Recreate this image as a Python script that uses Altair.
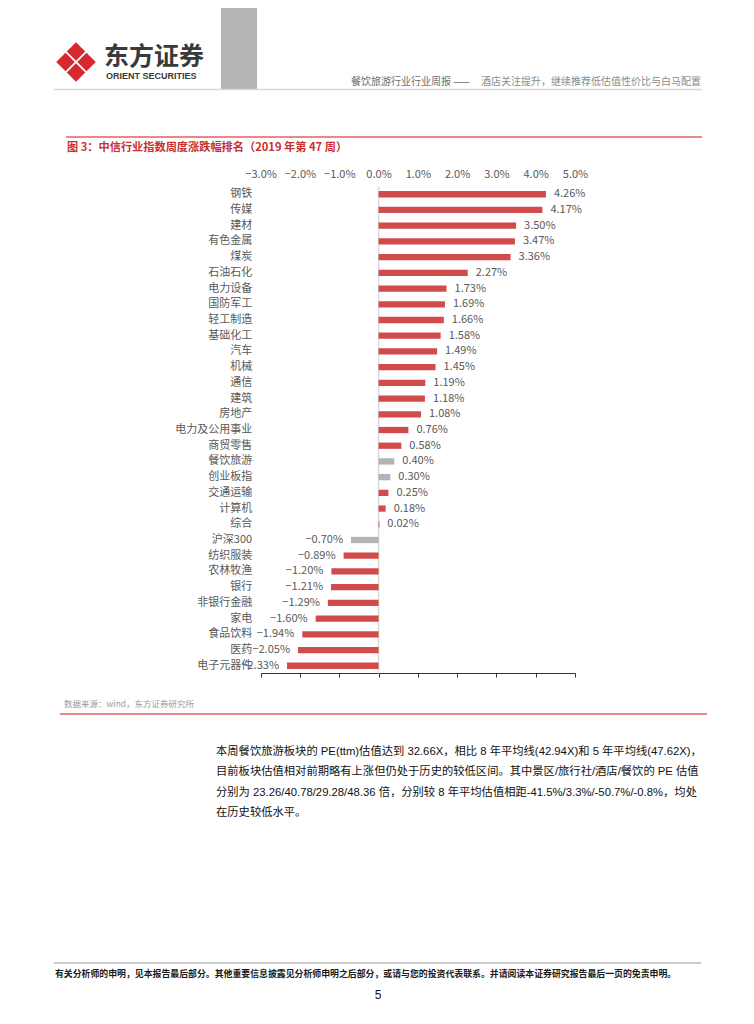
import altair as alt
import pandas as pd

# ---------------- data ----------------
names = ["钢铁", "传媒", "建材", "有色金属", "煤炭", "石油石化", "电力设备", "国防军工",
         "轻工制造", "基础化工", "汽车", "机械", "通信", "建筑", "房地产", "电力及公用事业",
         "商贸零售", "餐饮旅游", "创业板指", "交通运输", "计算机", "综合", "沪深300",
         "纺织服装", "农林牧渔", "银行", "非银行金融", "家电", "食品饮料", "医药", "电子元器件"]
values = [4.26, 4.17, 3.50, 3.47, 3.36, 2.27, 1.73, 1.69,
          1.66, 1.58, 1.49, 1.45, 1.19, 1.18, 1.08, 0.76,
          0.58, 0.40, 0.30, 0.25, 0.18, 0.02, -0.70,
          -0.89, -1.20, -1.21, -1.29, -1.60, -1.94, -2.05, -2.33]
grey_items = ["餐饮旅游", "创业板指", "沪深300"]
tick_values = [-3, -2, -1, 0, 1, 2, 3, 4, 5]

groups = ["grey" if n in grey_items else "red" for n in names]
df = pd.DataFrame({"name": names, "value": values, "group": groups})
one = pd.DataFrame({"k": [0]})

CJK = "Noto Sans CJK SC"
LAT = "Liberation Sans, Noto Sans CJK SC"
LABEL_C = "#595959"

xscale = alt.Scale(domain=[-3, 5], range=[252.7, 567], nice=False, zero=False)
yscale = alt.Scale(domain=names, range=[178.4, 665.6], paddingInner=0.6, paddingOuter=0.3)

base = alt.Chart(df)

bars = base.mark_bar().encode(
    x=alt.X("value:Q", scale=xscale,
            axis=alt.Axis(orient="bottom", offset=-335, values=tick_values, labels=False,
                          ticks=True, tickSize=4, tickColor="#333333", tickWidth=1,
                          domain=True, domainColor="#333333", domainWidth=1.2,
                          grid=False, title=None)),
    y=alt.Y("name:N", scale=yscale,
            axis=alt.Axis(orient="left", offset=-246.7, domain=False, ticks=False,
                          labelPadding=3, labelFontSize=11, labelColor=LABEL_C,
                          labelFont=CJK, title=None, grid=False, labelOverlap=False)),
    color=alt.Color("group:N", scale=alt.Scale(domain=["red", "grey"],
                                               range=["#D24B4B", "#B3B3B3"]), legend=None),
)

zero_line = alt.Chart(one).mark_rule(color="#d9d9d9", strokeWidth=1.5).encode(
    x=alt.XDatum(0, type="quantitative", scale=xscale,
                 axis=alt.Axis(orient="top", offset=-172, values=tick_values,
                               labelExpr="format(datum.value, '.1f') + '%'",
                               ticks=False, tickSize=0, domain=False, grid=False,
                               labelOverlap=False, labelBound=False, labelFlush=False,
                               labelPadding=1, labelFontSize=11, labelColor=LABEL_C,
                               labelFont=CJK, title=None)),
    y=alt.value(178.4),
    y2=alt.value(665.6),
)

pos_labels = base.transform_filter("datum.value >= 0").transform_calculate(
    label="format(datum.value, '.2f') + '%'"
).mark_text(align="left", baseline="middle", dx=8, fontSize=11, color=LABEL_C, font=CJK).encode(
    x=alt.X("value:Q", scale=xscale, axis=None),
    y=alt.Y("name:N", scale=yscale, axis=None),
    text="label:N",
)

neg_labels = base.transform_filter("datum.value < 0").transform_calculate(
    label="format(datum.value, '.2f') + '%'"
).mark_text(align="right", baseline="middle", dx=-8, fontSize=11, color=LABEL_C, font=CJK).encode(
    x=alt.X("value:Q", scale=xscale, axis=None),
    y=alt.Y("name:N", scale=yscale, axis=None),
    text="label:N",
)


# ---------------- page decoration ----------------
def txt(s, x, y, size, color="#000000", weight="normal", align="left", font=CJK):
    return alt.Chart(one).mark_text(text=s, align=align, baseline="middle", fontSize=size,
                                    color=color, fontWeight=weight, font=font).encode(
        x=alt.value(x), y=alt.value(y))


def hline(x1, x2, y, color, w):
    return alt.Chart(one).mark_rule(color=color, strokeWidth=w).encode(
        x=alt.value(x1), x2=alt.value(x2), y=alt.value(y))


grey_block = alt.Chart(one).mark_rect(color="#B5B5B5").encode(
    x=alt.value(213), x2=alt.value(249), y=alt.value(0), y2=alt.value(81))

logo_pts = []
for dx, dy in [(0, -10.5), (0, 10.5), (-10.5, 0), (10.5, 0)]:
    logo_pts.append(alt.Chart(one).mark_point(shape="diamond", filled=True, size=340,
                                              color="#D7282F", opacity=1).encode(
        x=alt.value(68 + dx), y=alt.value(54 + dy)))

deco = [
    grey_block,
    *logo_pts,
    txt("东方证券", 96, 49, 25, "#3a3a3a", "bold"),
    txt("ORIENT SECURITIES", 98, 67.5, 9, "#3a3a3a", "bold", font="Liberation Sans"),
    txt("餐饮旅游行业行业周报 ——", 462, 74, 10, "#6e6e6e", align="right"),
    txt("酒店关注提升，继续推荐低估值性价比与白马配置", 693, 74, 10, "#8c8c8c", align="right"),
    hline(46, 694, 81.5, "#d9d9d9", 1.5),
    hline(58, 694, 129, "#E06060", 1.5),
    txt("图 3：中信行业指数周度涨跌幅排名（2019 年第 47 周）", 59, 140, 11.2, "#C8302F", "bold"),
    txt("数据来源：wind，东方证券研究所", 56, 696, 8.5, "#9a9a9a"),
    hline(52, 699, 706, "#E06060", 1.5),
    txt("本周餐饮旅游板块的 PE(ttm)估值达到 32.66X，相比 8 年平均线(42.94X)和 5 年平均线(47.62X)，",
        208, 743.5, 11.3, "#111111", font=LAT),
    txt("目前板块估值相对前期略有上涨但仍处于历史的较低区间。其中景区/旅行社/酒店/餐饮的 PE 估值",
        208, 764, 11.3, "#111111", font=LAT),
    txt("分别为 23.26/40.78/29.28/48.36 倍，分别较 8 年平均估值相距-41.5%/3.3%/-50.7%/-0.8%，均处",
        208, 784.5, 11.3, "#111111", font=LAT),
    txt("在历史较低水平。", 208, 805, 11.3, "#111111", font=LAT),
    hline(46, 693, 955, "#9a9a9a", 1),
    txt("有关分析师的申明，见本报告最后部分。其他重要信息披露见分析师申明之后部分，或请与您的投资代表联系。并请阅读本证券研究报告最后一页的免责申明。",
        47, 966, 8.9, "#1a1a1a", "bold"),
    txt("5", 370, 987, 12, "#111111", align="center", font=LAT),
]

chart = alt.layer(
    *deco, zero_line, bars, pos_labels, neg_labels
).resolve_axis(
    x="independent", y="independent"
).properties(
    width=738, height=1000, padding=0,
    autosize=alt.AutoSizeParams(type="none"),
).configure_view(stroke=None)

chart.save("out.html", embed_options={"renderer": "svg", "actions": False})
